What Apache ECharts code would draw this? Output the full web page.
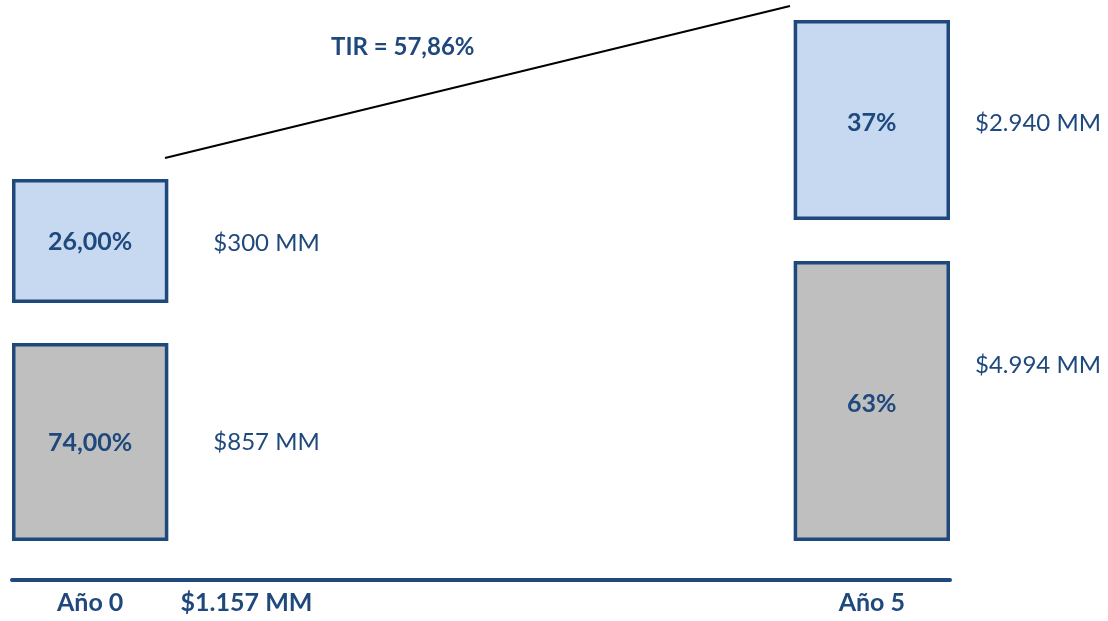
<!DOCTYPE html>
<html>
<head>
<meta charset="utf-8">
<script src="https://cdn.jsdelivr.net/npm/echarts@6/dist/echarts.min.js"></script>
<style>html,body{margin:0;background:#fff}#chart{width:1108px;height:621px}</style>
</head>
<body>
<div id="chart"></div>
<script>
var xLabels = ['Año 0', '$1.157 MM', '', '', '', 'Año 5'];
// alturas esquemáticas de cada tramo (eje y de 0 a 580)
var baseGap = [39, '-', '-', '-', '-', 39];
var debtHeight = [198, '-', '-', '-', '-', 280];
var midGap = [40, '-', '-', '-', '-', 41];
var equityHeight = [124, '-', '-', '-', '-', 200];
var debtPct = ['74,00%', '', '', '', '', '63%'];
var equityPct = ['26,00%', '', '', '', '', '37%'];
var debtAmount = ['$857 MM', '', '', '', '', '$4.994 MM'];
var equityAmount = ['$300 MM', '', '', '', '', '$2.940 MM'];
var tirText = 'TIR = 57,86%';
var tirLine = [[153, 422], [778, 574]];

var azul = '#1F497D';
var fuente = 'Lato';

function tramo(name, stack, values, fill, border, labels, labelOpt) {
    return {
        name: name,
        type: 'bar',
        stack: stack,
        barWidth: '100%',
        barGap: '-100%',
        silent: true,
        data: values.map(function (v, i) {
            var item = { value: v };
            if (labels) {
                item.label = Object.assign({
                    show: true,
                    formatter: labels[i],
                    color: azul,
                    fontFamily: fuente,
                    fontSize: 24
                }, labelOpt ? labelOpt(i) : {});
            }
            return item;
        }),
        itemStyle: border ? { color: fill, borderColor: azul, borderWidth: 3.5 } : { color: 'rgba(0,0,0,0)' }
    };
}

function pctLabel(i) {
    return { position: 'inside', fontWeight: 'bold', fontSize: 25, offset: [0, i === 0 ? 1 : 3] };
}

var chart = echarts.init(document.getElementById('chart'));
chart.setOption({
    animation: false,
    title: {
        text: tirText,
        left: 326,
        top: 30,
        textStyle: { color: azul, fontFamily: fuente, fontSize: 24, fontWeight: 'bold' }
    },
    grid: { left: 12, right: 158, top: 0, bottom: 41 },
    xAxis: [{
        type: 'category',
        data: xLabels,
        axisLine: { lineStyle: { color: azul, width: 4 } },
        axisTick: { show: false },
        axisLabel: { color: azul, fontFamily: fuente, fontSize: 25, fontWeight: 'bold', margin: 10, interval: 0 }
    }, {
        type: 'value',
        min: 0,
        max: 938,
        show: false
    }],
    yAxis: { type: 'value', min: 0, max: 580, show: false },
    series: [
        tramo('base', 'a', baseGap),
        tramo('Deuda', 'a', debtHeight, '#BFBFBF', true, debtPct, pctLabel),
        tramo('gap', 'a', midGap),
        tramo('Capital', 'a', equityHeight, '#C6D9F1', true, equityPct, pctLabel),
        tramo('base2', 'b', baseGap),
        tramo('Deuda monto', 'b', debtHeight, null, false, debtAmount, function (i) {
            return i === 0 ? { position: 'right', distance: 45 } : { position: 'right', distance: 25, offset: [0, -36] };
        }),
        tramo('gap2', 'b', midGap),
        tramo('Capital monto', 'b', equityHeight, null, false, equityAmount, function (i) {
            return i === 0 ? { position: 'right', distance: 45, offset: [0, 2] } : { position: 'right', distance: 25, offset: [0, 3] };
        }),
        {
            name: 'TIR',
            type: 'line',
            xAxisIndex: 1,
            data: tirLine,
            symbol: 'none',
            silent: true,
            lineStyle: { color: '#000', width: 2 }
        }
    ]
});
</script>
</body>
</html>
